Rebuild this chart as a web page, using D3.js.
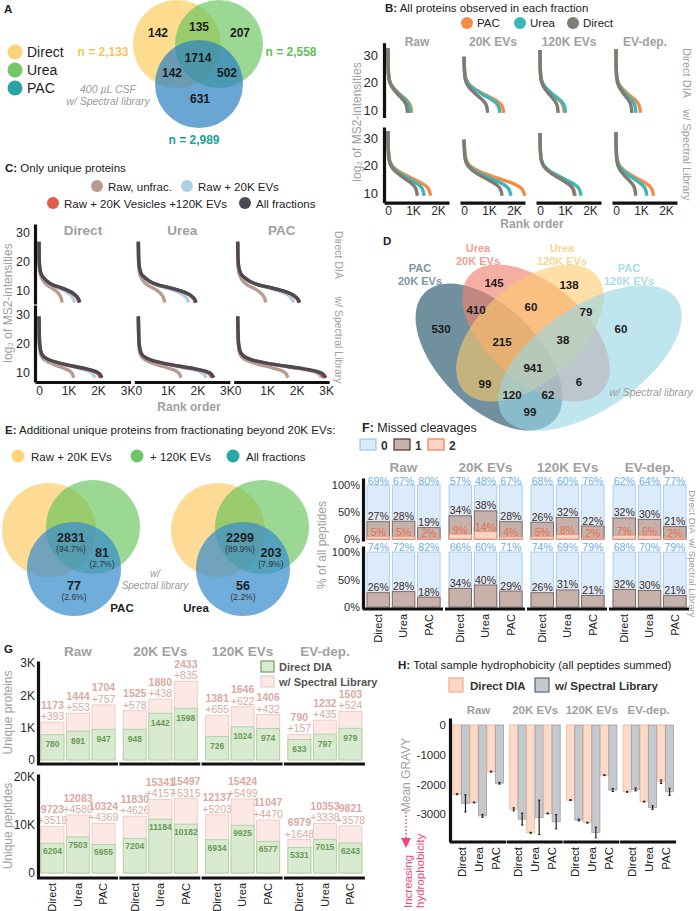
<!DOCTYPE html>
<html><head><meta charset="utf-8">
<script src="https://cdn.jsdelivr.net/npm/d3@7"></script>
<style>
html,body{margin:0;padding:0;background:#fff;}
svg{display:block;font-family:"Liberation Sans",Arial,Helvetica,sans-serif;}
</style></head><body>
<svg width="700" height="911" viewBox="0 0 700 911"></svg>
<script>
// ======================= DATA =======================
const fractions = ["Raw", "20K EVs", "120K EVs", "EV-dep."];
const methods = ["Direct", "Urea", "PAC"];

// Panel A – Venn of the three preparation methods (w/ spectral library)
const vennALegend = ["Direct", "Urea", "PAC"];
const vennATotals = ["n = 2,133", "n = 2,558", "n = 2,989"];
const vennAOnly = [142, 207, 631];       // Direct only, Urea only, PAC only
const vennAPairs = [135, 142, 502];      // Direct∩Urea, Direct∩PAC, Urea∩PAC
const vennAAll = 1714;

// Panel G – unique proteins / peptides (rows: fractions, cols: methods)
const protDirectDIA = [[780, 891, 947], [948, 1442, 1598], [726, 1024, 974], [633, 797, 979]];
const protSpecLib   = [[1173, 1444, 1704], [1525, 1880, 2433], [1381, 1646, 1406], [790, 1232, 1503]];
const protGain      = [[393, 553, 757], [578, 438, 835], [655, 622, 432], [157, 435, 524]];
const pepDirectDIA  = [[6204, 7503, 5955], [7204, 11184, 10182], [6934, 9925, 6577], [5331, 7015, 6243]];
const pepSpecLib    = [[9723, 12083, 10324], [11830, 15341, 15497], [12137, 15424, 11047], [6979, 10353, 9821]];
const pepGain       = [[3519, 4580, 4369], [4626, 4157, 5315], [5203, 5499, 4470], [1648, 3338, 3578]];

// Panel B – rank-order curve shape: [fraction of proteins, log2 intensity]
const bProfile = [[0.005, 27.5], [0.015, 24.5], [0.03, 22.5], [0.08, 20.4], [0.15, 19.1], [0.25, 17.9], [0.4, 16.6],
                  [0.55, 15.4], [0.7, 14.3], [0.82, 13.3], [0.9, 12.4], [0.95, 11.5], [0.98, 10.3], [1, 9]];
const bStart = [32.5, 29.4, 31.8, 32.2];

// Panel C – unique proteins, cumulative fractions (per method column: Direct, Urea, PAC)
const cSeries = ["Raw, unfrac.", "Raw + 20K EVs", "Raw + 20K Vesicles +120K EVs", "All fractions"];
const cCountsDirectDIA = [[780, 1200, 1350, 1380], [891, 1700, 1930, 1960], [947, 1900, 2070, 2100]];
const cCountsSpecLib   = [[1173, 1900, 2080, 2133], [1444, 2299, 2502, 2558], [1704, 2831, 2912, 2989]];
const cProfileTop    = [[0.004, 22], [0.015, 18.5], [0.05, 16], [0.1, 14.8], [0.2, 13.3], [0.34, 12.1], [0.5, 11.3],
                        [0.69, 10.3], [0.85, 9.1], [0.93, 8.1], [0.98, 7], [1, 6]];
const cProfileBottom = [[0.004, 24], [0.012, 19.5], [0.04, 16.5], [0.1, 15], [0.17, 14.2], [0.3, 13.3], [0.45, 12.5],
                        [0.7, 11.4], [0.85, 10.6], [0.92, 10], [0.97, 9.2], [1, 8]];
const cStart = [27, 29.5];

// Panel D – four-set Venn
const vennDSets = [["PAC", "20K EVs"], ["Urea", "20K EVs"], ["Urea", "120K EVs"], ["PAC", "120K EVs"]];
const vennDRegions = ["1", "2", "3", "4", "12", "23", "34", "123", "234", "1234", "13", "24", "134", "124", "14"];
const vennDCounts  = [530, 145, 138, 60, 410, 60, 79, 215, 38, 941, 99, 6, 120, 62, 99];

// Panel E – additional unique proteins
const eSets = ["Raw + 20K EVs", "+ 120K EVs", "All fractions"];
const eMethods = ["PAC", "Urea"];
const eCore = [2831, 2299];
const eCorePct = ["(94.7%)", "(89.9%)"];
const eGain120 = [81, 203];
const eGain120Pct = ["(2.7%)", "(7.9%)"];
const eGainAll = [77, 56];
const eGainAllPct = ["(2.6%)", "(2.2%)"];

// Panel F – missed cleavages (%)
const mcDirect0 = [[69, 67, 80], [57, 48, 67], [68, 60, 76], [62, 64, 77]];
const mcDirect1 = [[27, 28, 19], [34, 38, 28], [26, 32, 22], [32, 30, 21]];
const mcDirect2 = [[5, 5, 2], [9, 14, 4], [5, 8, 2], [7, 6, 2]];
const mcLib0 = [[74, 72, 82], [66, 60, 71], [74, 69, 79], [68, 70, 79]];
const mcLib1 = [[26, 28, 18], [34, 40, 29], [26, 31, 21], [32, 30, 21]];

// Panel H – summed GRAVY
const hSeriesNames = ["Direct DIA", "w/ Spectral Library"];
const gravyDirectDIA = [[-2330, -2610, -1570], [-2840, -3630, -2980], [-2530, -3290, -1690], [-2250, -2580, -1910]];
const gravyDirectErr = [[15, 15, 15], [50, 15, 15], [15, 15, 15], [15, 15, 60]];
const gravySpecLib   = [[-2640, -3060, -1960], [-3170, -3110, -3260], [-3200, -3620, -2190], [-2170, -2780, -2250]];
const gravySpecErr   = [[290, 50, 30], [200, 580, 240], [30, 180, 50], [50, 60, 120]];
const hTicks = [0, -1000, -2000, -3000];

// ======================= HELPERS =======================
const FONT = '"Liberation Sans", Arial, Helvetica, sans-serif';
const GRAY = "#a0a0a0";
const svg = d3.select("svg");

function T(g, x, y, s, o = {}) {
  const t = g.append("text").attr("x", x).attr("y", y).text(s)
    .attr("font-size", o.size || 12).attr("fill", o.fill || "#222")
    .attr("text-anchor", o.anchor || "start");
  if (o.weight) t.attr("font-weight", o.weight);
  if (o.italic) t.attr("font-style", "italic");
  if (o.rot) t.attr("transform", `rotate(${o.rot},${x},${y})`);
  if (o.mid) t.attr("dominant-baseline", "central");
  return t;
}
function title(g, x, y, prefix, rest, size = 11.5) {
  const t = g.append("text").attr("x", x).attr("y", y).attr("font-size", size).attr("fill", "#222");
  t.append("tspan").attr("font-weight", "bold").text(prefix);
  t.append("tspan").text(rest);
}
function styleAxis(sel, size, lw) {
  sel.attr("font-family", FONT).attr("font-size", size).attr("color", "#111");
  sel.select(".domain").attr("stroke-width", lw);
  sel.selectAll(".tick text").attr("fill", "#2a2a2a");
}
function barLabels(g, band, x0, y, size) {
  const ax = g.append("g").attr("transform", `translate(${x0},${y})`)
    .call(d3.axisBottom(band).tickSize(0).tickPadding(0));
  ax.select(".domain").remove();
  ax.attr("font-family", FONT).attr("font-size", size);
  ax.selectAll("text").attr("fill", "#222").attr("transform", "rotate(-90)")
    .attr("text-anchor", "end").attr("x", 0).attr("y", 0).attr("dy", "0.35em");
}
const kfmt = d => d === 0 ? "0" : (d / 1000) + "K";

// ======================= PANEL A =======================
{
  const g = svg.append("g");
  T(g, 4, 13, "A", { weight: "bold", size: 11.5 });
  const legCol = { Direct: "#fdd37a", Urea: "#72c767", PAC: "#27a3a4" };
  const circ = [
    { cx: 177, cy: 44, fill: "#fcd06a", op: 0.75 },
    { cx: 219, cy: 44, fill: "#64c35a", op: 0.65 },
    { cx: 199, cy: 84, fill: "#2a80c0", op: 0.7 }];
  circ.forEach(c => g.append("circle").attr("cx", c.cx).attr("cy", c.cy).attr("r", 44)
    .attr("fill", c.fill).attr("fill-opacity", c.op));
  vennALegend.forEach((name, i) => {
    const y = 52 + i * 18;
    g.append("circle").attr("cx", 15).attr("cy", y).attr("r", 7.5).attr("fill", legCol[name]);
    T(g, 27, y + 5, name, { size: 14 });
  });
  T(g, 103, 56, vennATotals[0], { size: 12, weight: "bold", fill: "#f8c55e", anchor: "middle" });
  T(g, 291, 56, vennATotals[1], { size: 12, weight: "bold", fill: "#5fbf55", anchor: "middle" });
  T(g, 194, 144, vennATotals[2], { size: 12, weight: "bold", fill: "#229d9e", anchor: "middle" });
  const pos = [[158, 33], [240, 33], [200, 99], [199, 27], [172, 73], [227, 73], [198, 58]];
  const vals = [...vennAOnly, ...vennAPairs, vennAAll];
  vals.forEach((v, i) => T(g, pos[i][0], pos[i][1], v, { size: 12, weight: "bold", anchor: "middle", mid: true, fill: "#1a1a1a" }));
  T(g, 108, 93, "400 µL CSF", { size: 10.5, italic: true, fill: "#9a9a9a", anchor: "middle" });
  T(g, 108, 105, "w/ Spectral library", { size: 10.5, italic: true, fill: "#9a9a9a", anchor: "middle" });
}

// ======================= PANEL B =======================
{
  const g = svg.append("g");
  title(g, 385, 12, "B:", " All proteins observed in each fraction", 11.5);
  const bColor = { PAC: "#f58b45", Urea: "#3fb5b9", Direct: "#7e7c70" };
  const legOrder = ["PAC", "Urea", "Direct"];
  const legX = d3.scalePoint().domain(legOrder).range([467, 573]);
  legOrder.forEach(m => {
    g.append("circle").attr("cx", legX(m)).attr("cy", 23).attr("r", 6).attr("fill", bColor[m]);
    T(g, legX(m) + 10, 27, m, { size: 11.5 });
  });
  const colX = d3.scaleBand().domain(fractions).range([384, 688]);
  const rowY = [d3.scaleLinear().domain([7.3, 34.5]).range([117.5, 42.7]),
                d3.scaleLinear().domain([6.5, 34]).range([202.6, 127])];
  const rowData = [protDirectDIA, protSpecLib];
  const line = d3.line().curve(d3.curveMonotoneX);
  fractions.forEach((f, c) => {
    const x0 = colX(f);
    const x = d3.scaleLinear().domain([-160, 2440]).range([x0, x0 + 65]);
    T(g, x0 + 33, 46, f, { size: 12, weight: "bold", fill: GRAY, anchor: "middle" });
    rowY.forEach((y, r) => {
      ["PAC", "Urea", "Direct"].forEach(m => {
        const N = rowData[r][c][methods.indexOf(m)];
        const pts = [[0, bStart[c]], ...bProfile.map(([p, v]) => [p * N, v])];
        g.append("path").attr("d", line(pts.map(([a, b]) => [x(a), y(b)])))
          .attr("fill", "none").attr("stroke", bColor[m]).attr("stroke-width", 3.4);
      });
      if (c === 0) {
        const ax = g.append("g").attr("transform", `translate(${x0},0)`)
          .call(d3.axisLeft(y).tickValues([10, 20, 30]).tickSize(0).tickPadding(6).tickSizeOuter(0));
        styleAxis(ax, 13, 3.2);
      }
      if (r === 1) {
        const ax = g.append("g").attr("transform", `translate(0,${y.range()[0]})`)
          .call(d3.axisBottom(x).tickValues([0, 1000, 2000]).tickFormat(kfmt).tickSize(0).tickPadding(4).tickSizeOuter(0));
        styleAxis(ax, 12, 3.2);
      }
    });
  });
  T(g, 361, 122, "log₂ of MS2-intensities", { size: 12, fill: GRAY, anchor: "middle", rot: -90 });
  T(g, 532, 228, "Rank order", { size: 12, weight: "bold", fill: GRAY, anchor: "middle" });
  T(g, 683, 73, "Direct DIA", { size: 11, fill: GRAY, anchor: "middle", rot: 90 });
  T(g, 683, 155, "w/ Spectral Library", { size: 11, fill: GRAY, anchor: "middle", rot: 90 });
}

// ======================= PANEL C =======================
{
  const g = svg.append("g");
  title(g, 5, 172, "C:", " Only unique proteins", 11.5);
  const cColor = ["#b99a8e", "#a9d1e3", "#e05d4b", "#4a4a50"];
  const legPos = [[97, 186], [187, 186], [53, 203], [245, 203]];
  cSeries.forEach((s, i) => {
    g.append("circle").attr("cx", legPos[i][0]).attr("cy", legPos[i][1]).attr("r", 6).attr("fill", cColor[i]);
    T(g, legPos[i][0] + 11, legPos[i][1] + 4.5, s, { size: 11.5 });
  });
  const colX = d3.scaleBand().domain(methods).range([35, 333]);
  const rowY = [d3.scaleLinear().domain([5.5, 33.1]).range([304, 224]),
                d3.scaleLinear().domain([6.5, 33.5]).range([382, 305])];
  const rowData = [cCountsDirectDIA, cCountsSpecLib];
  const rowProf = [cProfileTop, cProfileBottom];
  const line = d3.line().curve(d3.curveMonotoneX);
  methods.forEach((m, c) => {
    const x0 = colX(m);
    const x = d3.scaleLinear().domain([-136, 3100]).range([x0, x0 + 95.5]);
    T(g, x0 + 48, 235, m, { size: 13.5, weight: "bold", fill: GRAY, anchor: "middle" });
    rowY.forEach((y, r) => {
      cSeries.forEach((s, k) => {
        const N = rowData[r][c][k];
        const pts = [[0, cStart[r]], ...rowProf[r].map(([p, v]) => [p * N, v])];
        g.append("path").attr("d", line(pts.map(([a, b]) => [x(a), y(b)])))
          .attr("fill", "none").attr("stroke", cColor[k]).attr("stroke-width", 3.4);
      });
      if (c === 0) {
        const ax = g.append("g").attr("transform", `translate(${x0},0)`)
          .call(d3.axisLeft(y).tickValues([10, 20, 30]).tickSize(0).tickPadding(5).tickSizeOuter(0));
        styleAxis(ax, 12.5, 3.2);
      }
      if (r === 1) {
        const ax = g.append("g").attr("transform", `translate(0,${y.range()[0]})`)
          .call(d3.axisBottom(x).tickValues([0, 1000, 2000, 3000]).tickFormat(kfmt).tickSize(0).tickPadding(4).tickSizeOuter(0));
        styleAxis(ax, 12, 3.2);
      }
    });
  });
  T(g, 12, 303, "log₂ of MS2-intensities", { size: 12, fill: GRAY, anchor: "middle", rot: -90 });
  T(g, 189, 411, "Rank order", { size: 12, weight: "bold", fill: GRAY, anchor: "middle" });
  T(g, 335, 255, "Direct DIA", { size: 10.5, fill: GRAY, anchor: "middle", rot: 90 });
  T(g, 335, 340, "w/ Spectral Library", { size: 10.5, fill: GRAY, anchor: "middle", rot: 90 });
}

// ======================= PANEL D =======================
{
  const g = svg.append("g");
  T(g, 383, 245, "D", { weight: "bold", size: 11.5 });
  const C = [533, 357];
  const ell = [
    { cx: 489, cy: 357, rx: 91, ry: 50, rot: 45, fill: "#4d7486", op: 0.8, lab: "#7e96a3", lx: 420, ly: 272 },
    { cx: 536, cy: 333, rx: 88, ry: 49, rot: 41, fill: "#ee8470", op: 0.65, lab: "#f1a090", lx: 478, ly: 252 },
    { cx: 530, cy: 333, rx: 88, ry: 49, rot: -41, fill: "#fdcc6a", op: 0.6, lab: "#f9d68f", lx: 562, ly: 252 },
    { cx: 590, cy: 358, rx: 105, ry: 52, rot: -34, fill: "#98d6e5", op: 0.62, lab: "#a9dde8", lx: 629, ly: 272 }];
  ell.forEach(e => {
    g.append("ellipse").attr("cx", e.cx).attr("cy", e.cy).attr("rx", e.rx).attr("ry", e.ry)
      .attr("transform", `rotate(${e.rot},${e.cx},${e.cy})`).attr("fill", e.fill).attr("fill-opacity", e.op);
  });
  vennDSets.forEach((lines, i) => {
    const e = ell[i];
    lines.forEach((s, j) => T(g, e.lx, e.ly + j * 12.5, s, { size: 11, weight: "bold", fill: e.lab, anchor: "middle" }));
  });
  const off = { "1": [-92, -28], "2": [-39, -74], "3": [36, -72], "4": [88, -28], "12": [-57, -47], "23": [-2, -50],
    "34": [53, -45], "123": [-31, -15], "234": [30, -17], "1234": [0, 11], "13": [-48, 27], "24": [46, 25],
    "134": [-21, 38], "124": [15, 38], "14": [-3, 55] };
  vennDRegions.forEach((k, i) => T(g, C[0] + off[k][0], C[1] + off[k][1], vennDCounts[i],
    { size: 11.5, weight: "bold", anchor: "middle", mid: true, fill: "#1a1a1a" }));
  T(g, 651, 396, "w/ Spectral library", { size: 10.5, italic: true, fill: "#9a9a9a", anchor: "middle" });
}

// ======================= PANEL E =======================
{
  const g = svg.append("g");
  title(g, 5, 434, "E:", " Additional unique proteins from fractionating beyond 20K EVs:", 11.5);
  const legCol = ["#fdd37a", "#6cc663", "#2aa6a6"];
  const legX = [18, 137, 233];
  eSets.forEach((s, i) => {
    g.append("circle").attr("cx", legX[i]).attr("cy", 456).attr("r", 6.5).attr("fill", legCol[i]);
    T(g, legX[i] + 13, 460.5, s, { size: 11.5 });
  });
  const circ = [{ dx: -25, dy: -39, fill: "#fdd27a", op: 0.8 }, { dx: 19, dy: -42, fill: "#5cc052", op: 0.62 },
                { dx: 0, dy: 0, fill: "#3a8dcc", op: 0.72 }];
  const centers = [[74, 569], [243, 569]];
  eMethods.forEach((m, i) => {
    const [cx, cy] = centers[i];
    circ.forEach(c => g.append("circle").attr("cx", cx + c.dx).attr("cy", cy + c.dy).attr("r", 47)
      .attr("fill", c.fill).attr("fill-opacity", c.op));
    T(g, cx - 3, cy - 31, eCore[i], { size: 12.5, weight: "bold", anchor: "middle", mid: true });
    T(g, cx - 3, cy - 20, eCorePct[i], { size: 8.5, anchor: "middle", mid: true, fill: "#333" });
    T(g, cx + 28, cy - 16, eGain120[i], { size: 12.5, weight: "bold", anchor: "middle", mid: true });
    T(g, cx + 28, cy - 5, eGain120Pct[i], { size: 8.5, anchor: "middle", mid: true, fill: "#333" });
    T(g, cx, cy + 17, eGainAll[i], { size: 12.5, weight: "bold", anchor: "middle", mid: true });
    T(g, cx, cy + 28, eGainAllPct[i], { size: 8.5, anchor: "middle", mid: true, fill: "#333" });
    T(g, cx + (i === 0 ? 48 : -47), cy + 39, m, { size: 11.5, weight: "bold", anchor: "middle", mid: true });
  });
  T(g, 155, 577, "w/", { size: 10, italic: true, fill: "#9a9a9a", anchor: "middle" });
  T(g, 155, 589, "Spectral library", { size: 10, italic: true, fill: "#9a9a9a", anchor: "middle" });
}

// ======================= PANEL F =======================
{
  const g = svg.append("g");
  title(g, 362, 432, "F:", " Missed cleavages", 12.5);
  const box = [{ f: "#dcebfa", s: "#9fc7ee" }, { f: "#c6b2aa", s: "#4b3630" }, { f: "#fbd4c4", s: "#ea7d5c" }];
  ["0", "1", "2"].forEach((k, i) => {
    const x = 360 + i * 34;
    g.append("rect").attr("x", x).attr("y", 439).attr("width", 16).attr("height", 11).attr("fill", box[i].f).attr("stroke", box[i].s).attr("stroke-width", 1.2);
    T(g, x + 21, 449.5, k, { size: 12, weight: "bold", fill: "#333" });
  });
  const grp = d3.scaleBand().domain(fractions).range([367, 695]);
  const inner = d3.scaleBand().domain(methods).range([0, 73.1]).paddingInner(0.11);
  const rowY = [d3.scaleLinear().domain([-3.7, 113]).range([541, 478]),
                d3.scaleLinear().domain([-3.6, 111]).range([609, 546])];
  const c0 = "#6aaee4", c1 = "#3d2a24", c2 = "#e8704f";
  fractions.forEach((f, gi) => {
    const gx = grp(f);
    T(g, gx + 36.5, 472, f, { size: 13.5, weight: "bold", fill: GRAY, anchor: "middle" });
    methods.forEach((m, mi) => {
      const x = gx + inner(m), w = inner.bandwidth(), cx = x + w / 2;
      let y = rowY[0];
      const p0 = mcDirect0[gi][mi], p1 = mcDirect1[gi][mi], p2 = mcDirect2[gi][mi];
      g.append("rect").attr("x", x).attr("y", y(100)).attr("width", w).attr("height", y(0) - y(100)).attr("fill", box[0].f).attr("stroke", box[0].s).attr("stroke-width", 0.8);
      g.append("rect").attr("x", x).attr("y", y(p1 + p2)).attr("width", w).attr("height", y(0) - y(p1 + p2)).attr("fill", box[1].f).attr("stroke", "#7a6058").attr("stroke-width", 0.9);
      g.append("rect").attr("x", x).attr("y", y(p2)).attr("width", w).attr("height", y(0) - y(p2)).attr("fill", box[2].f).attr("stroke", "#ee8e70").attr("stroke-width", 0.8);
      T(g, cx, y(100) - 0.5, p0 + "%", { size: 10.5, fill: c0, anchor: "middle" });
      T(g, cx, y(p1 + p2) - 1.5, p1 + "%", { size: 10.5, fill: c1, anchor: "middle" });
      T(g, cx, y(p2) - 0.5, p2 + "%", { size: 10.5, fill: c2, anchor: "middle" });
      y = rowY[1];
      const q0 = mcLib0[gi][mi], q1 = mcLib1[gi][mi];
      g.append("rect").attr("x", x).attr("y", y(100)).attr("width", w).attr("height", y(0) - y(100)).attr("fill", box[0].f).attr("stroke", box[0].s).attr("stroke-width", 0.8);
      g.append("rect").attr("x", x).attr("y", y(q1)).attr("width", w).attr("height", y(0) - y(q1)).attr("fill", box[1].f).attr("stroke", "#7a6058").attr("stroke-width", 0.9);
      T(g, cx, y(100) - 1, q0 + "%", { size: 10.5, fill: c0, anchor: "middle" });
      T(g, cx, y(q1) - 1.5, q1 + "%", { size: 10.5, fill: c1, anchor: "middle" });
    });
    g.append("line").attr("x1", gx - 4).attr("x2", gx + 76).attr("y1", 609).attr("y2", 609).attr("stroke", "#111").attr("stroke-width", 3.2);
    barLabels(g, inner, gx, 614, 11);
  });
  rowY.forEach(y => {
    const ax = g.append("g").attr("transform", "translate(363,0)")
      .call(d3.axisLeft(y).tickValues([0, 50, 100]).tickFormat(d => d + "%").tickSize(0).tickPadding(3).tickSizeOuter(0));
    styleAxis(ax, 11, 3.2);
  });
  T(g, 326, 545, "% of all peptides", { size: 12, fill: GRAY, anchor: "middle", rot: -90 });
  T(g, 689, 512, "Direct DIA", { size: 9.5, fill: GRAY, anchor: "middle", rot: 90 });
  T(g, 689, 578, "w/ Spectral Library", { size: 9.5, fill: GRAY, anchor: "middle", rot: 90 });
}

// ======================= PANEL G =======================
{
  const g = svg.append("g");
  T(g, 4, 653, "G", { weight: "bold", size: 11.5 });
  const grp = d3.scaleBand().domain(fractions).range([41, 41 + 4 * 82.3]);
  const inner = d3.scaleBand().domain(methods).range([0, 74]).paddingInner(0.1);
  const yProt = d3.scaleLinear().domain([-124, 3060]).range([764, 661]);
  const yPep = d3.scaleLinear().domain([-1040, 20625]).range([878, 774]);
  const green = { f: "#d8ead0", s: "#b3d4a3", t: "#6a9a55" };
  const pink = { f: "#fce9e6", s: "#f0ccc6", t: "#d9aaa2" };
  g.append("rect").attr("x", 261).attr("y", 661).attr("width", 13).attr("height", 11).attr("fill", green.f).attr("stroke", "#6da35a").attr("stroke-width", 1.2);
  T(g, 279, 671, "Direct DIA", { size: 11, weight: "bold", fill: "#555" });
  g.append("rect").attr("x", 261).attr("y", 676).attr("width", 13).attr("height", 11).attr("fill", pink.f).attr("stroke", "#efcdc7").attr("stroke-width", 1.2);
  T(g, 279, 686, "w/ Spectral Library", { size: 11, weight: "bold", fill: "#555" });

  const panels = [
    { y: yProt, d: protDirectDIA, l: protSpecLib, p: protGain, ticks: [0, 1000, 2000, 3000], lab: "Unique proteins", gOff: 12.5 },
    { y: yPep, d: pepDirectDIA, l: pepSpecLib, p: pepGain, ticks: [0, 10000, 20000], lab: "Unique peptides", gOff: 11 }];
  panels.forEach(P => {
    const y = P.y, base = y.range()[0];
    fractions.forEach((f, gi) => {
      const gx = grp(f);
      methods.forEach((m, mi) => {
        const x = gx + inner(m), w = inner.bandwidth(), cx = x + w / 2;
        const tot = P.l[gi][mi], dir = P.d[gi][mi];
        g.append("rect").attr("x", x).attr("y", y(tot)).attr("width", w).attr("height", y(0) - y(tot)).attr("fill", pink.f).attr("stroke", pink.s).attr("stroke-width", 1);
        g.append("rect").attr("x", x).attr("y", y(dir)).attr("width", w).attr("height", y(0) - y(dir)).attr("fill", green.f).attr("stroke", green.s).attr("stroke-width", 1);
        T(g, cx, y(dir) + P.gOff, dir, { size: 8.5, weight: "bold", fill: green.t, anchor: "middle" });
        T(g, cx, y(tot) - 2, "+" + P.p[gi][mi], { size: 10.5, fill: pink.t, anchor: "middle" });
        T(g, cx, y(tot) - 13.5, tot, { size: 10.5, weight: "bold", fill: pink.t, anchor: "middle" });
      });
      g.append("line").attr("x1", gx - 4).attr("x2", gx + 77).attr("y1", base).attr("y2", base).attr("stroke", "#111").attr("stroke-width", 3.2);
    });
    const ax = g.append("g").attr("transform", "translate(38,0)")
      .call(d3.axisLeft(y).tickValues(P.ticks).tickFormat(kfmt).tickSize(0).tickPadding(3).tickSizeOuter(0));
    styleAxis(ax, 12, 3.2);
    const mid = (y.range()[0] + y.range()[1]) / 2;
    T(g, 12, mid, P.lab, { size: 12, fill: GRAY, anchor: "middle", rot: -90 });
  });
  fractions.forEach(f => {
    T(g, grp(f) + 37, 656, f, { size: 13.5, weight: "bold", fill: GRAY, anchor: "middle" });
    barLabels(g, inner, grp(f), 883, 11);
  });
}

// ======================= PANEL H =======================
{
  const g = svg.append("g");
  title(g, 398, 669, "H:", " Total sample hydrophobicity (all peptides summed)", 11.5);
  const ser = [{ f: "#fcdac8", s: "#f1b496" }, { f: "#c5c8cd", s: "#9aa0a7" }];
  g.append("rect").attr("x", 449).attr("y", 678).attr("width", 14).attr("height", 14).attr("fill", ser[0].f).attr("stroke", "#f1ad8a").attr("stroke-width", 1.2);
  T(g, 470, 690, hSeriesNames[0], { size: 11.5, weight: "bold", fill: "#333" });
  g.append("rect").attr("x", 535).attr("y", 678).attr("width", 14).attr("height", 14).attr("fill", ser[1].f).attr("stroke", "#4f6c7c").attr("stroke-width", 1.2);
  T(g, 555, 690, hSeriesNames[1], { size: 11.5, weight: "bold", fill: "#333" });
  const grp = d3.scaleBand().domain(fractions).range([453, 453 + 4 * 56.7]);
  const inner = d3.scaleBand().domain(methods).range([0, 51]);
  const sub = d3.scaleBand().domain(hSeriesNames).range([0, 16.5]).paddingInner(0.04);
  const y = d3.scaleLinear().domain([-3940, 236]).range([842, 718]);
  const vals = [gravyDirectDIA, gravySpecLib], errs = [gravyDirectErr, gravySpecErr];
  fractions.forEach((f, gi) => {
    const gx = grp(f);
    T(g, gx + 25.5, 714, f, { size: 11.5, weight: "bold", fill: GRAY, anchor: "middle" });
    methods.forEach((m, mi) => {
      hSeriesNames.forEach((s, si) => {
        const x = gx + inner(m) + sub(s), w = sub.bandwidth(), v = vals[si][gi][mi], e = errs[si][gi][mi];
        g.append("rect").attr("x", x).attr("y", y(0)).attr("width", w).attr("height", y(v) - y(0))
          .attr("fill", ser[si].f).attr("stroke", ser[si].s).attr("stroke-width", 0.8);
        const cx = x + w / 2;
        g.append("line").attr("x1", cx).attr("x2", cx).attr("y1", y(v - e)).attr("y2", y(v + e)).attr("stroke", "#222").attr("stroke-width", 1.2);
        g.append("line").attr("x1", cx - 1.2).attr("x2", cx + 1.2).attr("y1", y(v - e)).attr("y2", y(v - e)).attr("stroke", "#222").attr("stroke-width", 1);
        g.append("line").attr("x1", cx - 1.2).attr("x2", cx + 1.2).attr("y1", y(v + e)).attr("y2", y(v + e)).attr("stroke", "#222").attr("stroke-width", 1);
      });
    });
    g.append("line").attr("x1", gx - 3).attr("x2", gx + 53).attr("y1", 842).attr("y2", 842).attr("stroke", "#111").attr("stroke-width", 3.2);
    barLabels(g, inner, gx, 847, 11.5);
  });
  const ax = g.append("g").attr("transform", "translate(450,0)")
    .call(d3.axisLeft(y).tickValues(hTicks).tickFormat(d => d === 0 ? "0" : "-" + Math.abs(d)).tickSize(0).tickPadding(4).tickSizeOuter(0));
  styleAxis(ax, 11.5, 3.2);
  T(g, 410, 775, "Mean GRAVY", { size: 12, fill: GRAY, anchor: "middle", rot: -90 });
  const pinkc = "#ec4a80";
  g.append("line").attr("x1", 406).attr("x2", 406).attr("y1", 812).attr("y2", 840).attr("stroke", pinkc).attr("stroke-width", 1.6).attr("stroke-dasharray", "1.5,2");
  g.append("path").attr("d", "M401,838 L411,838 L406,848 Z").attr("fill", pinkc);
  T(g, 412, 908, "Increasing", { size: 11.5, fill: pinkc, rot: -90 });
  T(g, 424, 908, "hydrophobicity", { size: 11.5, fill: pinkc, rot: -90 });
}
</script>
</body></html>
